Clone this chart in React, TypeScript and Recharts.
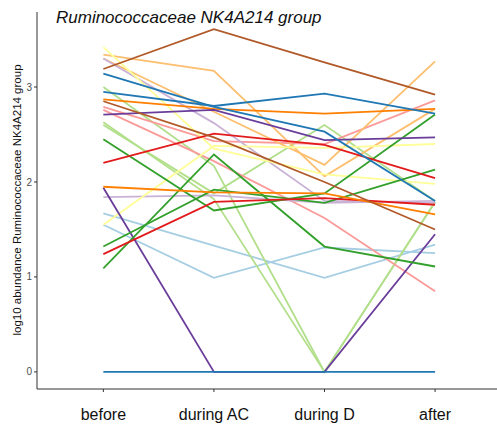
import React from 'react';
import { LineChart, Line, XAxis, YAxis } from 'recharts';

const categories = ['before', 'during AC', 'during D', 'after'];
const yTicks = [0, 1, 2, 3];

// one array per subject: before, during AC, during D, after
const brown1 = [3.19, 3.61, 3.26, 2.92];
const brown2 = [2.85, 2.47, 2.0, 1.5];
const lightOrange1 = [3.34, 3.17, 2.06, 2.77];
const lightOrange2 = [3.3, 2.74, 2.18, 3.27];
const yellow1 = [3.42, 2.35, 2.08, 1.98];
const yellow2 = [1.55, 2.38, 2.36, 2.4];
const blue1 = [3.14, 2.79, 2.53, 1.8];
const blue2 = [2.95, 2.8, 2.93, 2.72];
const blue3 = [0, 0, 0, 0];
const orange1 = [2.87, 2.77, 2.72, 2.77];
const orange2 = [1.95, 1.89, 1.88, 1.66];
const purple1 = [2.71, 2.76, 2.44, 2.47];
const purple2 = [1.94, 0, 0, 1.45];
const red1 = [2.2, 2.51, 2.39, 2.04];
const red2 = [1.24, 1.79, 1.83, 1.76];
const pink1 = [2.79, 2.43, 2.4, 2.86];
const pink2 = [2.76, 2.22, 1.62, 0.85];
const lightPurple1 = [3.3, 2.62, 1.8, 1.78];
const lightPurple2 = [1.84, 1.86, 1.78, 1.8];
const lightBlue1 = [1.67, 1.33, 0.99, 1.34];
const lightBlue2 = [1.55, 0.99, 1.31, 1.25];
const green1 = [2.45, 1.7, 1.88, 2.71];
const green2 = [1.32, 1.92, 1.78, 2.13];
const green3 = [1.09, 2.29, 1.32, 1.11];
const lightGreen1 = [3.0, 2.17, 0, 1.79];
const lightGreen2 = [2.63, 1.82, 0, 1.79];
const lightGreen3 = [2.6, 1.88, 2.6, 1.8];

const series = [
  { key: 'lightBlue1', color: '#A6CEE3', values: lightBlue1 },
  { key: 'lightBlue2', color: '#A6CEE3', values: lightBlue2 },
  { key: 'lightGreen1', color: '#B2DF8A', values: lightGreen1 },
  { key: 'lightGreen2', color: '#B2DF8A', values: lightGreen2 },
  { key: 'lightGreen3', color: '#B2DF8A', values: lightGreen3 },
  { key: 'pink1', color: '#FB9A99', values: pink1 },
  { key: 'pink2', color: '#FB9A99', values: pink2 },
  { key: 'lightOrange1', color: '#FDBF6F', values: lightOrange1 },
  { key: 'lightOrange2', color: '#FDBF6F', values: lightOrange2 },
  { key: 'lightPurple1', color: '#CAB2D6', values: lightPurple1 },
  { key: 'lightPurple2', color: '#CAB2D6', values: lightPurple2 },
  { key: 'yellow1', color: '#FFFF99', values: yellow1 },
  { key: 'yellow2', color: '#FFFF99', values: yellow2 },
  { key: 'purple2', color: '#6A3D9A', values: purple2 },
  { key: 'green1', color: '#33A02C', values: green1 },
  { key: 'green2', color: '#33A02C', values: green2 },
  { key: 'green3', color: '#33A02C', values: green3 },
  { key: 'red1', color: '#E31A1C', values: red1 },
  { key: 'red2', color: '#E31A1C', values: red2 },
  { key: 'orange1', color: '#FF7F00', values: orange1 },
  { key: 'orange2', color: '#FF7F00', values: orange2 },
  { key: 'purple1', color: '#6A3D9A', values: purple1 },
  { key: 'brown1', color: '#B15928', values: brown1 },
  { key: 'brown2', color: '#B15928', values: brown2 },
  { key: 'blue1', color: '#1F78B4', values: blue1 },
  { key: 'blue2', color: '#1F78B4', values: blue2 },
  { key: 'blue3', color: '#1F78B4', values: blue3 },
];

const data = categories.map((c, i) => {
  const row: Record<string, number | string> = { x: i, name: c };
  series.forEach(s => { row[s.key] = s.values[i]; });
  return row;
});

const font = '"Liberation Sans", Arial, sans-serif';

const App: React.FC = () => {
  return (
    <div style={{ position: 'absolute', left: 0, top: 0, width: 497, height: 427, background: '#fff', fontFamily: font }}>
      <LineChart width={497} height={427} data={data} margin={{ top: 12, right: 0, bottom: 0, left: 7 }}>
        <XAxis
          dataKey="x"
          type="number"
          domain={[-0.6, 3.56]}
          ticks={[0, 1, 2, 3]}
          tickFormatter={(v: number) => categories[v]}
          height={38}
          tickSize={3}
          tickMargin={17}
          stroke="#333"
          tick={{ fill: '#111', fontSize: 16, fontFamily: font }}
          allowDataOverflow
        />
        <YAxis
          type="number"
          domain={[-0.18, 3.79]}
          ticks={yTicks}
          width={30}
          tickSize={3}
          tickMargin={2}
          stroke="#333"
          tick={{ fill: '#4D4D4D', fontSize: 10, fontFamily: font }}
          allowDataOverflow
        />
        {series.map(s => (
          <Line
            key={s.key}
            dataKey={s.key}
            stroke={s.color}
            strokeWidth={1.8}
            dot={false}
            activeDot={false}
            type="linear"
            isAnimationActive={false}
          />
        ))}
      </LineChart>
      <svg width={497} height={427} style={{ position: 'absolute', left: 0, top: 0, pointerEvents: 'none' }}>
        <text x={56} y={23} fontSize={17} fontStyle="italic" fill="#111" fontFamily={font}>
          Ruminococcaceae NK4A214 group
        </text>
        <text
          transform="translate(21,200) rotate(-90)"
          textAnchor="middle"
          fontSize={11.5}
          fill="#111"
          fontFamily={font}
        >
          log10 abundance Ruminococcaceae NK4A214 group
        </text>
      </svg>
    </div>
  );
};

export default App;
